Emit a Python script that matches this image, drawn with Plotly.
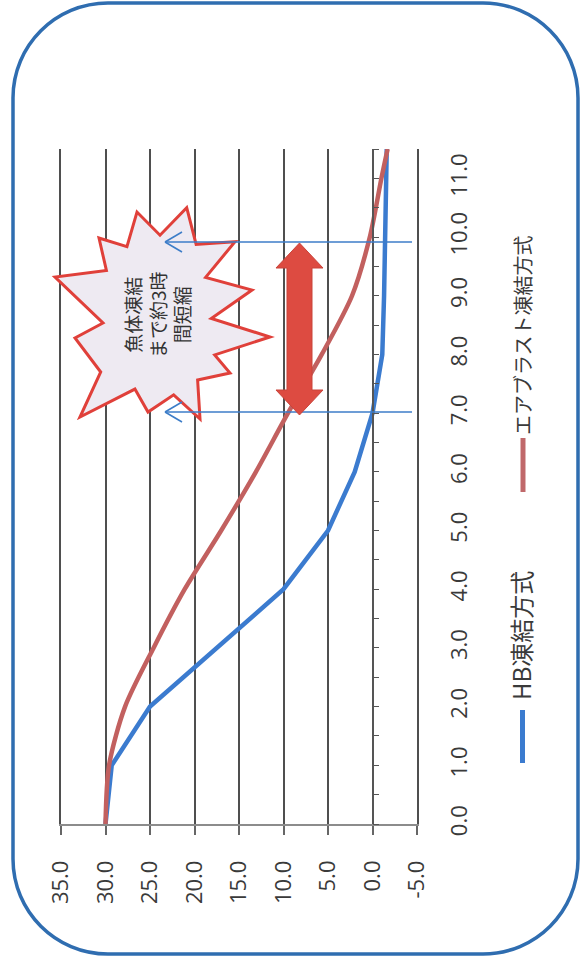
import plotly.graph_objects as go

# ---------------- data ----------------
time_h = [0, 1, 2, 3, 4, 5, 6, 7, 8, 9, 10, 11, 11.5]
hb_temp = [30.0, 29.3, 25.0, 17.5, 10.0, 5.0, 2.0, 0.0, -1.1, -1.3, -1.4, -1.5, -1.6]
air_temp = [30.0, 29.6, 27.8, 24.6, 21.1, 17.0, 13.1, 9.5, 5.7, 2.3, 0.3, -1.0, -1.7]
series_names = ["HB凍結方式", "エアブラスト凍結方式"]
temp_ticks = [35, 30, 25, 20, 15, 10, 5, 0, -5]
temp_labels = ["35.0", "30.0", "25.0", "20.0", "15.0", "10.0", "5.0", "0.0", "-5.0"]
time_ticks = [0, 1, 2, 3, 4, 5, 6, 7, 8, 9, 10, 11]
time_labels = ["0.0", "1.0", "2.0", "3.0", "4.0", "5.0", "6.0", "7.0", "8.0", "9.0", "10.0", "11.0"]
callout_text = "魚体凍結<br>まで約3時<br>間短縮"

# ---------------- layout geometry ----------------
W, H = 581, 956
PL, PR, PT, PB = 61, 417, 149, 824
T_MAX, T_MIN = 35, -5
BLUE = "#3B7BCF"
RED = "#C2605F"
GRID = "#4f4f4f"
FONT = "Open Sans"
TXT = "#3a3a3a"


def fx(px):
    return (px - PL) / (PR - PL)


def fy(py):
    return (PB - py) / (PB - PT)


def P(px, py):
    return f"{fx(px):.5f},{fy(py):.5f}"


def poly(points):
    return "M " + " L ".join(P(x, y) for x, y in points) + " Z"


def rounded_rect(x0, y0, x1, y1, r):
    k = 0.5523 * r
    return (
        f"M {P(x0 + r, y0)} L {P(x1 - r, y0)} "
        f"C {P(x1 - r + k, y0)} {P(x1, y0 + r - k)} {P(x1, y0 + r)} "
        f"L {P(x1, y1 - r)} "
        f"C {P(x1, y1 - r + k)} {P(x1 - r + k, y1)} {P(x1 - r, y1)} "
        f"L {P(x0 + r, y1)} "
        f"C {P(x0 + r - k, y1)} {P(x0, y1 - r + k)} {P(x0, y1 - r)} "
        f"L {P(x0, y0 + r)} "
        f"C {P(x0, y0 + r - k)} {P(x0 + r - k, y0)} {P(x0 + r, y0)} Z"
    )


fig = go.Figure()

fig.add_trace(go.Scatter(
    x=hb_temp, y=time_h, mode="lines", name=series_names[0],
    line=dict(color=BLUE, width=4.5), showlegend=False,
))
fig.add_trace(go.Scatter(
    x=air_temp, y=time_h, mode="lines", name=series_names[1],
    line=dict(color=RED, width=4.5, shape="spline", smoothing=0.8), showlegend=False,
))
# invisible trace to carry the axis drawn at 0 degrees
fig.add_trace(go.Scatter(
    x=[0], y=[0], yaxis="y2", mode="markers", marker=dict(opacity=0),
    showlegend=False, hoverinfo="skip",
))

shapes = []
# outer rounded frame
shapes.append(dict(type="path", xref="paper", yref="paper",
                   path=rounded_rect(13, 3, 578, 954, 95),
                   line=dict(color="#2F6DB0", width=3.5), fillcolor="rgba(0,0,0,0)",
                   layer="below"))

# starburst
cx, cy = 160, 315
star_raw = [
    (186.7, 207.7, 1), (191.7, 253, 0), (235, 241.7, 1), (200, 282, 0), (252, 290, 1), (205, 318, 0),
    (270, 337, 1), (208, 350, 0), (230, 373, 1), (193, 372, 0), (200, 419, 1), (172, 385, 0),
    (148, 412, 1), (138, 380, 0), (80, 417, 1), (108, 365, 0), (75, 338, 1), (110, 322, 0),
    (55, 277, 1), (113, 276, 0), (99, 238, 1), (131, 255, 0), (137, 212, 1), (160, 245, 0),
]
star = []
for x, y, outer in star_raw:
    s = 1.0 if outer else 1.14
    star.append((cx + (x - cx) * s, cy + (y - cy) * s))
shapes.append(dict(type="path", xref="paper", yref="paper", path=poly(star),
                   line=dict(color="#E0403A", width=3), fillcolor="#EEEAF2"))

# blue pointer arrows
for ya in (242, 412):
    shapes.append(dict(type="line", xref="paper", yref="paper",
                       x0=fx(412), y0=fy(ya), x1=fx(165), y1=fy(ya),
                       line=dict(color="#3D7DC8", width=1.6)))
    for dy in (-10, 10):
        shapes.append(dict(type="line", xref="paper", yref="paper",
                           x0=fx(165), y0=fy(ya), x1=fx(182), y1=fy(ya + dy),
                           line=dict(color="#3D7DC8", width=1.6)))

# big red double arrow
c = 299.5
arrow = [
    (c, 243), (c + 23.5, 268), (c + 12.5, 268), (c + 12.5, 390), (c + 23.5, 390),
    (c, 415), (c - 23.5, 390), (c - 12.5, 390), (c - 12.5, 268), (c - 23.5, 268),
]
shapes.append(dict(type="path", xref="paper", yref="paper", path=poly(arrow),
                   line=dict(color="#C9443B", width=1), fillcolor="#DD4B41"))

# legend lines
shapes.append(dict(type="line", xref="paper", yref="paper",
                   x0=fx(522.5), y0=fy(710), x1=fx(522.5), y1=fy(763),
                   line=dict(color=BLUE, width=5)))
shapes.append(dict(type="line", xref="paper", yref="paper",
                   x0=fx(523), y0=fy(438), x1=fx(523), y1=fy(492),
                   line=dict(color="#C0686A", width=5)))

annotations = [
    dict(xref="paper", yref="paper", x=fx(157), y=fy(315), text=callout_text,
         textangle=-90, showarrow=False,
         font=dict(family="Noto Sans CJK JP", size=19, color="#333333"),
         xanchor="center", yanchor="middle"),
    dict(xref="paper", yref="paper", x=fx(520), y=fy(636), text=series_names[0],
         textangle=-90, showarrow=False,
         font=dict(family="Noto Sans CJK JP", size=24, color=TXT),
         xanchor="center", yanchor="middle"),
    dict(xref="paper", yref="paper", x=fx(522), y=fy(335), text=series_names[1],
         textangle=-90, showarrow=False,
         font=dict(family="Noto Sans CJK JP", size=20, color=TXT),
         xanchor="center", yanchor="middle"),
]

fig.update_layout(
    width=W, height=H,
    margin=dict(l=PL, r=W - PR, t=PT, b=H - PB, pad=0),
    paper_bgcolor="white", plot_bgcolor="white",
    font=dict(family=FONT, size=22, color=TXT),
    showlegend=False,
    shapes=shapes, annotations=annotations,
    xaxis=dict(
        range=[T_MAX, T_MIN], tickmode="array", tickvals=temp_ticks, ticktext=temp_labels,
        tickangle=-90, showgrid=True, gridcolor=GRID, gridwidth=1.5,
        showline=True, linecolor="#8c8c8c", linewidth=1.5,
        ticks="outside", ticklen=9, tickcolor="#666666", tickwidth=1.5,
        ticklabelstandoff=17, zeroline=False,
        tickfont=dict(family=FONT, size=22, color=TXT),
    ),
    yaxis=dict(
        range=[0, 11.5], side="right", tickmode="array", tickvals=time_ticks,
        ticktext=time_labels, tickangle=-90, showgrid=False, zeroline=False,
        showline=True, mirror=True, linecolor=GRID, linewidth=1.5,
        ticks="", ticklabelstandoff=22,
        tickfont=dict(family=FONT, size=22, color=TXT),
    ),
    yaxis2=dict(
        range=[0, 11.5], overlaying="y", anchor="free",
        position=(T_MAX - 0) / (T_MAX - T_MIN), side="right",
        showline=True, linecolor="#555555", linewidth=1.5,
        ticks="outside", ticklen=6, tickcolor="#555555", tickwidth=1.2,
        dtick=0.5, tick0=0, showticklabels=False, showgrid=False, zeroline=False,
    ),
)

fig.write_html("out.html")
